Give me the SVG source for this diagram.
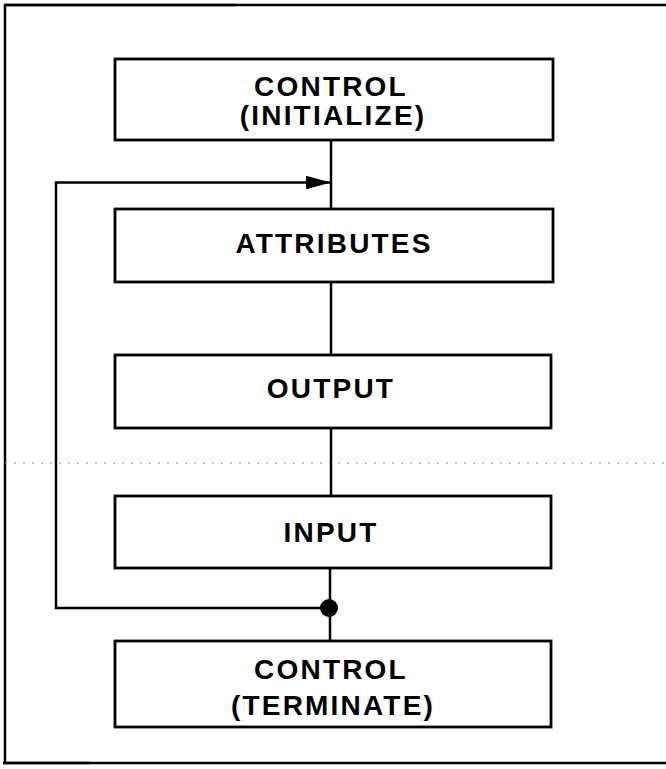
<svg xmlns="http://www.w3.org/2000/svg" width="666" height="769" viewBox="0 0 666 769">
  <style>
    .box { fill: #ffffff; stroke: #000000; stroke-width: 2.8; }
    .lbl { font-family: "Liberation Sans", Arial, sans-serif; font-weight: bold; font-size: 28px; letter-spacing: 2.2px; fill: #000000; text-anchor: middle; }
    .wire { fill: none; stroke: #000000; stroke-width: 2.5; }
    .frame { fill: none; stroke: #000000; stroke-width: 2.5; }
  </style>
  <defs>
    <marker id="arrowhead" markerWidth="10" markerHeight="5.4" refX="10" refY="2.7" orient="auto" markerUnits="strokeWidth">
      <path d="M0,0 L10,2.7 L0,5.4 Z" fill="#000000"/>
    </marker>
  </defs>

  <rect width="666" height="769" fill="#ffffff"/>

  <!-- page frame: open on the right -->
  <g id="frame">
    <path class="frame" d="M5,764 L5,5 L666,5"/>
    <path class="frame" d="M5,5 L235,5" stroke-width="3.5"/>
    <path class="frame" d="M3,763 L666,763"/>
    <path class="frame" d="M3,763 L90,763" stroke-width="3.5"/>
    <line x1="5" y1="463" x2="666" y2="463" stroke="#888888" stroke-width="1" stroke-dasharray="2 7"/>
  </g>

  <!-- connectors -->
  <g id="connectors">
    <line class="wire" x1="331" y1="140" x2="331" y2="209"/>
    <line class="wire" x1="331" y1="282" x2="331" y2="355"/>
    <line class="wire" x1="331" y1="428" x2="331" y2="496"/>
    <line class="wire" x1="330" y1="568" x2="330" y2="641"/>
    <path class="wire" d="M330,608 L56,608 L56,182.5 L331,182.5" marker-end="url(#arrowhead)"/>
    <circle cx="329" cy="608" r="9" fill="#000000"/>
  </g>

  <g id="control-initialize">
    <rect class="box" x="115" y="59" width="438" height="81"/>
    <text class="lbl" x="331" y="96">CONTROL</text>
    <text class="lbl" x="333" y="125">(INITIALIZE)</text>
  </g>

  <g id="attributes">
    <rect class="box" x="115" y="209" width="438" height="73"/>
    <text class="lbl" x="334" y="253">ATTRIBUTES</text>
  </g>

  <g id="output">
    <rect class="box" x="115" y="355" width="436" height="73"/>
    <text class="lbl" x="331" y="398">OUTPUT</text>
  </g>

  <g id="input">
    <rect class="box" x="115" y="496" width="436" height="72"/>
    <text class="lbl" x="331" y="542">INPUT</text>
  </g>

  <g id="control-terminate">
    <rect class="box" x="115" y="641" width="436" height="86"/>
    <text class="lbl" x="331" y="679">CONTROL</text>
    <text class="lbl" x="333" y="715">(TERMINATE)</text>
  </g>
</svg>
